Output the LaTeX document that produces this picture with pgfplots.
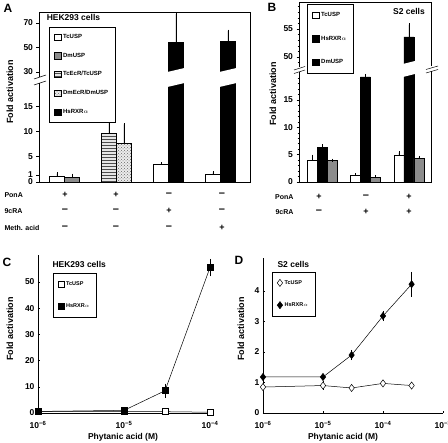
\documentclass[border=0pt]{standalone}
\usepackage{fontspec}
\setmainfont{Liberation Sans}
\usepackage{pgfplots}
\pgfplotsset{compat=1.18}
\usetikzlibrary{patterns}

\pgfmathdeclarefunction{brka}{1}{\pgfmathparse{(#1<20)*5.05*#1+(#1>=20)*(110+1.225*(#1-30))}}
\pgfmathdeclarefunction{brkb}{1}{\pgfmathparse{(#1<30)*5.47*#1+(#1>=30)*(125+5.6*(#1-50))}}

\pgfplotsset{
  base/.style={scale only axis, anchor=south west,
    font=\fontsize{8.5}{9}\selectfont\bfseries,
    tick label style={font=\fontsize{8.5}{9}\selectfont\bfseries},
    /pgf/number format/assume math mode=true,
    axis line style={line width=0.6pt}, tick style={line width=0.5pt, black},
    legend cell align=left},
  barerr/.style={error bars/y dir=plus, error bars/y explicit, error bars/error mark=-,
    error bars/error mark options={black, mark size=1.4pt, line width=0.5pt},
    error bars/error bar style={black, line width=0.5pt}},
}

\begin{document}
\begin{tikzpicture}[x=1pt,y=1pt]
\path[use as bounding box] (0,0) rectangle (448,-443);

% ---------------- Panel A ----------------
\begin{axis}[base, barerr, at={(39pt,-182pt)}, width=211pt, height=170pt,
  xmin=0.51, xmax=4.57, ymin=0, ymax=170, xtick=\empty,
  ytick={0,7,25.25,50.5,75.75,110,134.5,159}, yticklabels={0,1,5,10,15,30,50,70},
  ytick pos=left, tick align=outside, major tick length=2.5pt,
  legend style={at={(0.047,0.912)}, anchor=north west, draw=black, line width=0.5pt,
    font=\fontsize{6}{6.5}\selectfont\bfseries, row sep=9pt, inner xsep=5pt, inner ysep=5pt},
  legend image code/.code={\draw[#1] (0pt,-3.2pt) rectangle (6.5pt,3.2pt);}]
\addplot[ybar, bar width=0.29, bar shift=0pt, fill=white, draw=black, line width=0.5pt]
  table[row sep=\\, x=x, y expr={brka(\thisrow{v})}, y error expr={brka(\thisrow{v}+\thisrow{e})-brka(\thisrow{v})}]
  {x v e\\ 0.855 1.2 0.45\\ 2.855 3.5 0.1\\ 3.855 1.5 0.35\\};
\addlegendentry{TcUSP}
\addplot[ybar, bar width=0.29, bar shift=0pt, fill=gray!90, draw=black, line width=0.5pt]
  table[row sep=\\, x=x, y expr={brka(\thisrow{v})}, y error expr={brka(\thisrow{v}+\thisrow{e})-brka(\thisrow{v})}]
  {x v e\\ 1.145 1.0 0.4\\};
\addlegendentry{DmUSP}
\addplot[ybar, bar width=0.29, bar shift=0pt, fill=gray!20, draw=black, line width=0.5pt,
  postaction={pattern=horizontal lines, pattern color=black!70}]
  table[row sep=\\, x=x, y expr={brka(\thisrow{v})}, y error expr={brka(\thisrow{v}+\thisrow{e})-brka(\thisrow{v})}]
  {x v e\\ 1.855 9.6 3.2\\};
\addlegendentry{TcEcR/TcUSP}
\addplot[ybar, bar width=0.29, bar shift=0pt, fill=gray!15, draw=black, line width=0.5pt,
  postaction={pattern=crosshatch dots, pattern color=black!60}]
  table[row sep=\\, x=x, y expr={brka(\thisrow{v})}, y error expr={brka(\thisrow{v}+\thisrow{e})-brka(\thisrow{v})}]
  {x v e\\ 2.145 7.7 3.7\\};
\addlegendentry{DmEcR/DmUSP}
\addplot[ybar, bar width=0.29, bar shift=0pt, fill=black, draw=black, line width=0.5pt]
  table[row sep=\\, x=x, y expr={brka(\thisrow{v})}, y error expr={brka(\thisrow{v}+\thisrow{e})-brka(\thisrow{v})}]
  {x v e\\ 3.145 54.3 23\\ 4.145 55.3 8.2\\};
\addlegendentry{HsRXR$\alpha$}
\fill[white] (axis cs:2.98,95) -- (axis cs:3.31,99) -- (axis cs:3.31,114) -- (axis cs:2.98,110) -- cycle;
\fill[white] (axis cs:3.98,95) -- (axis cs:4.31,99) -- (axis cs:4.31,114) -- (axis cs:3.98,110) -- cycle;
\node[anchor=west, font=\fontsize{8.5}{9}\selectfont\bfseries] at (rel axis cs:0.02,0.965) {HEK293 cells};
\end{axis}
\fill[white] (37.5,-77) rectangle (40.5,-83);
\draw[line width=0.5pt] (34,-79)--(46,-75);
\draw[line width=0.5pt] (34,-85)--(46,-81);

% ---------------- Panel B ----------------
\begin{axis}[base, barerr, at={(299pt,-182pt)}, width=132pt, height=180pt,
  xmin=0.47, xmax=3.51, ymin=0, ymax=180, xtick=\empty,
  ytick={0,27.35,54.7,82.05,125,153}, yticklabels={0,5,10,15,50,55},
  minor ytick={5.47,10.94,16.41,21.88,32.82,38.29,43.76,49.23,60.17,65.64,71.11,76.58,87.52,92.99,98.46,103.93,119.4,130.6,136.2,141.8,147.4,158.6,164.2,169.8,175.4},
  ytick pos=left, tick align=outside, major tick length=2.5pt, minor tick length=1.5pt,
  legend style={at={(0.06,0.989)}, anchor=north west, draw=black, line width=0.5pt,
    font=\fontsize{6}{6.5}\selectfont\bfseries, row sep=14pt, inner xsep=5pt, inner ysep=6pt},
  legend image code/.code={\draw[#1] (0pt,-3.2pt) rectangle (6.5pt,3.2pt);}]
\addplot[ybar, bar width=0.23, bar shift=0pt, fill=white, draw=black, line width=0.5pt]
  table[row sep=\\, x=x, y expr={brkb(\thisrow{v})}, y error expr={brkb(\thisrow{v}+\thisrow{e})-brkb(\thisrow{v})}]
  {x v e\\ 0.77 4.0 0.75\\ 1.77 1.2 0.15\\ 2.77 4.9 0.45\\};
\addlegendentry{TcUSP}
\addplot[ybar, bar width=0.23, bar shift=0pt, fill=black, draw=black, line width=0.5pt]
  table[row sep=\\, x=x, y expr={brkb(\thisrow{v})}, y error expr={brkb(\thisrow{v}+\thisrow{e})-brkb(\thisrow{v})}]
  {x v e\\ 1 6.3 0.35\\ 2 19.2 0.3\\ 3 53.6 2.2\\};
\addlegendentry{HsRXR$\alpha$}
\addplot[ybar, bar width=0.23, bar shift=0pt, fill=gray!90, draw=black, line width=0.5pt, forget plot]
  table[row sep=\\, x=x, y expr={brkb(\thisrow{v})}, y error expr={brkb(\thisrow{v}+\thisrow{e})-brkb(\thisrow{v})}]
  {x v e\\ 1.23 3.9 0.1\\ 2.23 0.9 0.05\\ 3.23 4.3 0.2\\};
\addlegendimage{fill=black, draw=black}
\addlegendentry{DmUSP}
\fill[white] (axis cs:2.86,105) -- (axis cs:3.14,108) -- (axis cs:3.14,121) -- (axis cs:2.86,118) -- cycle;
\node[anchor=north east, font=\fontsize{8.5}{9}\selectfont\bfseries] at (rel axis cs:0.98,0.985) {S2 cells};
\end{axis}
\fill[white] (297.5,-67.5) rectangle (300.5,-72);
\draw[line width=0.5pt] (294,-70)--(305,-66.5);
\draw[line width=0.5pt] (294,-73.5)--(305,-70);
\fill[white] (429.5,-66.5) rectangle (432.5,-71);
\draw[line width=0.5pt] (426,-69.5)--(438,-66);
\draw[line width=0.5pt] (426,-73)--(438,-69.5);

% ---------------- Panel C ----------------
\begin{axis}[base, at={(38pt,-413pt)}, width=172pt, height=158pt,
  xmode=log, xmin=1e-6, xmax=1e-4, ymin=0, ymax=60.3, axis lines*=left, clip=false,
  xtick={1e-6,1e-5,1e-4}, xticklabels={10\textsuperscript{−6},10\textsuperscript{−5},10\textsuperscript{−4}},
  xticklabel style={yshift=-5pt},
  xminorticks=false, ytick={0,10,20,30,40,50}, tick align=inside, major tick length=2pt,
  legend style={at={(0.087,0.886)}, anchor=north west, draw=black, line width=0.5pt,
    font=\fontsize{5.5}{6}\selectfont\bfseries, row sep=13pt, inner xsep=5pt, inner ysep=6pt},
  legend image code/.code={\draw[#1,/tikz/only marks] plot coordinates {(4pt,0pt)};}]
\addplot[black, line width=0.5pt, mark=square*, mark size=3pt, mark options={fill=white, line width=0.5pt}]
  table[row sep=\\, x=x, y=v] {x v\\ 1e-6 0.5\\ 1e-5 0.5\\ 3e-5 0.5\\ 1e-4 0.3\\};
\addlegendentry{TcUSP}
\addplot[black, line width=0.5pt, mark=square*, mark size=3pt, mark options={fill=black},
  error bars/y dir=both, error bars/y explicit, error bars/error mark=-,
  error bars/error mark options={black, mark size=1.4pt, line width=0.5pt},
  error bars/error bar style={black, line width=0.5pt}]
  table[row sep=\\, x=x, y=v, y error=e] {x v e\\ 1e-6 0.6 0\\ 1e-5 1.0 0.3\\ 3e-5 8.5 2.2\\ 1e-4 55.5 2.8\\};
\addlegendentry{HsRXR$\alpha$}
\end{axis}

% ---------------- Panel D ----------------
\begin{axis}[base, at={(263pt,-413pt)}, width=180pt, height=155pt,
  xmode=log, xmin=1e-6, xmax=1e-3, ymin=0, ymax=5.08, axis lines*=left, clip=false,
  xtick={1e-6,1e-5,1e-4,1e-3}, xticklabels={10\textsuperscript{−6},10\textsuperscript{−5},10\textsuperscript{−4},10\textsuperscript{−3}},
  xticklabel style={yshift=-5pt},
  xminorticks=false, ytick={0,1,2,3,4}, tick align=inside, major tick length=2pt,
  legend style={at={(0.05,0.91)}, anchor=north west, draw=black, line width=0.5pt,
    font=\fontsize{5.5}{6}\selectfont\bfseries, row sep=13pt, inner xsep=5pt, inner ysep=6pt},
  legend image code/.code={\draw[#1,/tikz/only marks] plot coordinates {(4pt,0pt)};}]
\addplot[black, line width=0.5pt, mark=diamond*, mark size=3.6pt, mark options={fill=white, line width=0.5pt},
  error bars/y dir=both, error bars/y explicit, error bars/error mark=-,
  error bars/error mark options={black, mark size=1.4pt, line width=0.5pt},
  error bars/error bar style={black, line width=0.5pt}]
  table[row sep=\\, x=x, y=v, y error=e] {x v e\\ 1e-6 0.85 0.03\\ 1e-5 0.9 0.1\\ 3e-5 0.82 0.05\\ 1e-4 0.97 0.04\\ 3e-4 0.9 0.05\\};
\addlegendentry{TcUSP}
\addplot[black, line width=0.5pt, mark=diamond*, mark size=3.6pt, mark options={fill=black},
  error bars/y dir=both, error bars/y explicit, error bars/error mark=-,
  error bars/error mark options={black, mark size=1.4pt, line width=0.5pt},
  error bars/error bar style={black, line width=0.5pt}]
  table[row sep=\\, x=x, y=v, y error=e] {x v e\\ 1e-6 1.18 0\\ 1e-5 1.18 0\\ 3e-5 1.9 0.12\\ 1e-4 3.18 0.12\\ 3e-4 4.22 0.36\\};
\addlegendentry{HsRXR$\alpha$}
\end{axis}

% ---------------- Text ----------------
\begin{scope}[every node/.style={font=\fontsize{9}{10}\selectfont\bfseries}]
\node[rotate=90] at (10,-92) {Fold activation};
\node[rotate=90] at (273,-94) {Fold activation};
\node[rotate=90] at (10,-329) {Fold activation};
\node[rotate=90] at (241,-329) {Fold activation};
\end{scope}
\begin{scope}[every node/.style={font=\fontsize{8.5}{9}\selectfont\bfseries}]
\node at (123,-437) {Phytanic acid (M)};
\node at (343,-437) {Phytanic acid (M)};
\end{scope}
\begin{scope}[every node/.style={font=\fontsize{12}{13}\selectfont\bfseries}]
\node at (8,-8) {A};
\node at (272,-7) {B};
\node at (7,-262) {C};
\node at (239,-260) {D};
\end{scope}
\node[anchor=west, font=\fontsize{8.5}{9}\selectfont\bfseries] at (49,-264) {HEK293 cells};
\node[anchor=west, font=\fontsize{8.5}{9}\selectfont\bfseries] at (274,-264) {S2 cells};

\begin{scope}[every node/.style={font=\fontsize{7}{8}\selectfont\bfseries}]
\node[anchor=west] at (1,-195) {PonA};
\node[anchor=west] at (1,-211) {9cRA};
\node[anchor=west] at (1,-228) {Meth. acid};
\node[anchor=east] at (297,-197) {PonA};
\node[anchor=east] at (297,-212) {9cRA};
\end{scope}
\begin{scope}[every node/.style={font=\fontsize{9}{9}\selectfont\bfseries, inner sep=0pt}]
\node at (65,-195) {+}; \node at (116,-195) {+};
\node at (169,-211) {+}; \node at (222,-228) {+};
\node at (319,-197) {+}; \node at (409,-197) {+};
\node at (366,-212) {+}; \node at (409,-212) {+};
\end{scope}
\begin{scope}[every node/.style={font=\fontsize{11}{11}\selectfont\bfseries, inner sep=0pt}]
\node at (169,-195) {–}; \node at (222,-195) {–};
\node at (65,-211) {–}; \node at (116,-211) {–}; \node at (222,-211) {–};
\node at (65,-228) {–}; \node at (116,-228) {–}; \node at (169,-228) {–};
\node at (366,-197) {–};
\node at (319,-212) {–};
\end{scope}
\end{tikzpicture}
\end{document}
